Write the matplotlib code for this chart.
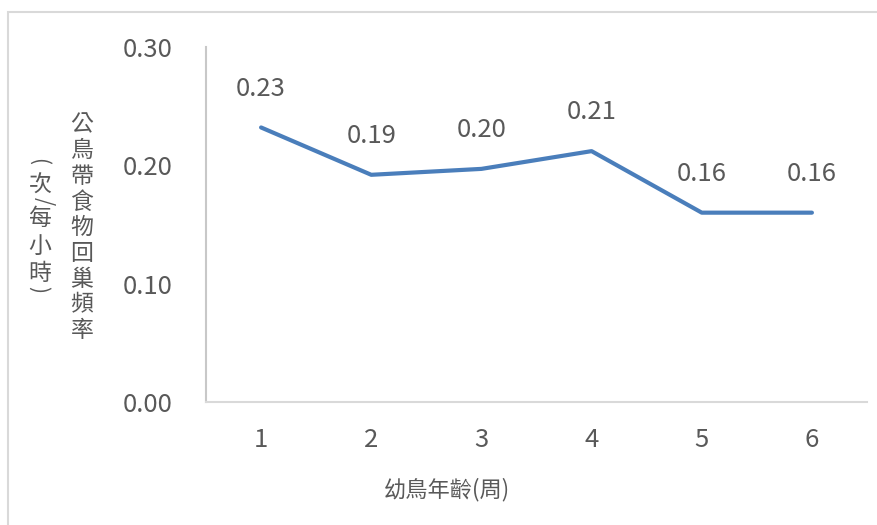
import matplotlib
matplotlib.use("Agg")
import matplotlib.pyplot as plt
from matplotlib.patches import Rectangle

plt.rcParams['font.family'] = ['Noto Sans CJK TC', 'DejaVu Sans']

# weekly feeding visits of the male bird
weeks = ['1', '2', '3', '4', '5', '6']
visits = [0.232, 0.192, 0.197, 0.212, 0.160, 0.160]
y_ticks = [0.0, 0.1, 0.2, 0.3]

x_title = '幼鳥年齡(周)'
y_title = '公鳥帶食物回巢頻率'
y_unit = ['(', '次', '/', '每', '小', '時', ')']

text_gray = '#595959'
line_blue = '#4A7EBB'
grid_gray = '#D9D9D9'

W, H = 878, 525
fig = plt.figure(figsize=(W / 100, H / 100), dpi=100)
ax = fig.add_axes([206 / W, 1 - 402 / H, (867 - 206) / W, (402 - 47) / H])

xs = range(1, len(weeks) + 1)
ax.plot(xs, visits, color=line_blue, lw=3, solid_capstyle='round', solid_joinstyle='round')
for x, v in zip(xs, visits):
    ax.annotate(f'{v:.2f}', (x, v), xytext=(0, 28), textcoords='offset points',
                ha='center', va='center', fontsize=18.5, color=text_gray)

ax.set_xlim(0.5, len(weeks) + 0.5)
ax.set_ylim(0, 0.3)
ax.set_xticks(list(xs))
ax.set_xticklabels(weeks)
ax.set_yticks(y_ticks)
ax.set_yticklabels([f'{t:.2f}' for t in y_ticks])
ax.tick_params(axis='both', length=0, labelsize=18.5, colors=text_gray)
ax.tick_params(axis='y', pad=24)
ax.tick_params(axis='x', pad=18)

for side in ['top', 'right']:
    ax.spines[side].set_visible(False)
ax.spines['left'].set_color('#C8C8C8')
ax.spines['left'].set_linewidth(1.5)
ax.spines['bottom'].set_color(grid_gray)
ax.spines['bottom'].set_linewidth(1.5)

# axis titles placed in pixel space
px = lambda x, y: (x / W, 1 - y / H)
fig.text(*px(447, 490), x_title, ha='center', va='center', fontsize=16, color=text_gray)

for i, ch in enumerate(y_title):
    fig.text(*px(82, 125 + i * 25.7), ch, ha='center', va='center',
             fontsize=16.5, color=text_gray)

# vertical unit text: brackets and slash turned sideways
unit_pos = [(38, 162), (40, 185), (44, 201), (40, 218), (40, 246), (40, 274), (38, 289)]
for ch, (x, y) in zip(y_unit, unit_pos):
    turned = ch in '()/'
    fig.text(*px(x, y), ch, ha='center', va='center',
             fontsize=15 if turned else 16.5, color=text_gray,
             rotation=-90 if turned else 0)

# chart frame
fig.patches.append(Rectangle((8 / W, -0.1), 1.2, 1 - 12 / H + 0.1,
                             transform=fig.transFigure, fill=False,
                             edgecolor=grid_gray, lw=1.5))

fig.savefig('out.png', dpi=100)
